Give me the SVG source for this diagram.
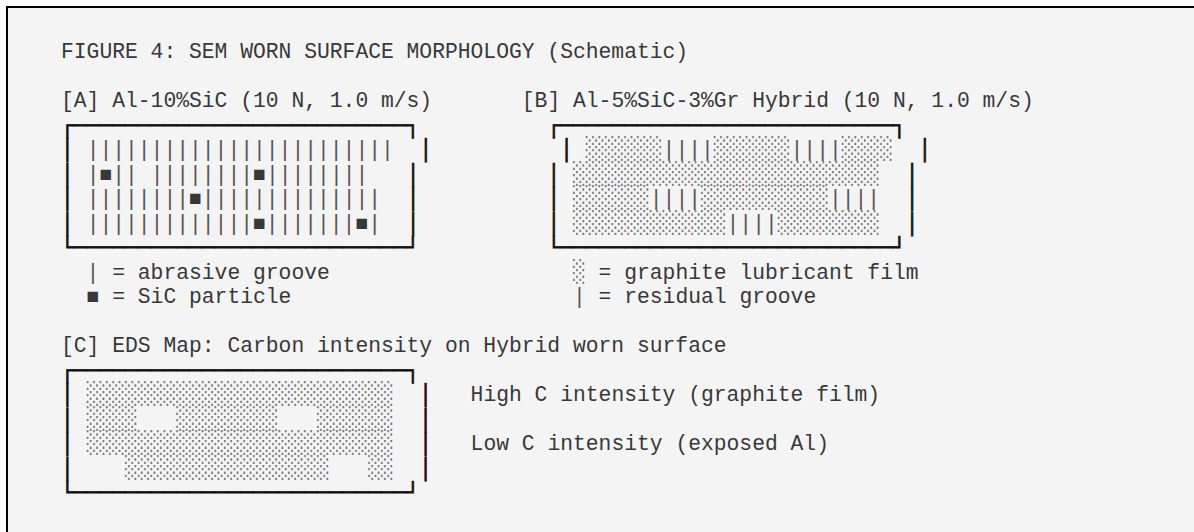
<svg xmlns="http://www.w3.org/2000/svg" width="1194" height="532" viewBox="0 0 1194 532">
  <style>
    .m { font-family: "Liberation Mono", "DejaVu Sans Mono", monospace; font-size: 21.333px; fill: #383838; white-space: pre; }
    .bx { fill: #111; stroke: #111; stroke-width: 0.8; }
    .sh { font-family: "DejaVu Sans Mono", "Liberation Mono", monospace; font-size: 21.26px; fill: #777; }
    .gv { fill: #555; }
    .frame { fill: #f4f4f4; stroke: #000; stroke-width: 2; }
  </style>
  <rect x="0" y="0" width="1194" height="532" fill="#ffffff"/>
  <rect class="frame" x="7" y="7" width="1200" height="540"/>

  <g id="title">
    <text class="m" x="61" y="58.4" xml:space="preserve">FIGURE 4: SEM WORN SURFACE MORPHOLOGY (Schematic)</text>
  </g>

  <g id="panel-a">
    <text class="m" x="61" y="107.4" xml:space="preserve">[A] Al-10%SiC (10 N, 1.0 m/s)</text>
    <text class="m bx" x="61" y="131.9" xml:space="preserve">┌──────────────────────────┐</text>
    <text class="m" x="61" y="156.4" xml:space="preserve"><tspan class="bx">│</tspan> <tspan class="gv">||||||||||||||||||||||||</tspan>  <tspan class="bx">│</tspan></text>
    <text class="m" x="61" y="180.9" xml:space="preserve"><tspan class="bx">│</tspan> <tspan class="gv">|</tspan>■<tspan class="gv">||</tspan> <tspan class="gv">||||||||</tspan>■<tspan class="gv">||||||||</tspan>   <tspan class="bx">│</tspan></text>
    <text class="m" x="61" y="205.4" xml:space="preserve"><tspan class="bx">│</tspan> <tspan class="gv">||||||||</tspan>■<tspan class="gv">||||||||||||||</tspan>  <tspan class="bx">│</tspan></text>
    <text class="m" x="61" y="229.9" xml:space="preserve"><tspan class="bx">│</tspan> <tspan class="gv">|||||||||||||</tspan>■<tspan class="gv">|||||||</tspan>■<tspan class="gv">|</tspan>  <tspan class="bx">│</tspan></text>
    <text class="m bx" x="61" y="254.4" xml:space="preserve">└──────────────────────────┘</text>
  </g>
  <g id="legend-a">
    <text class="m" x="86.6" y="278.9" xml:space="preserve"><tspan class="gv">|</tspan> = abrasive groove</text>
    <text class="m" x="86.6" y="303.4" xml:space="preserve">■ = SiC particle</text>
  </g>

  <g id="panel-b">
    <text class="m" x="521.8" y="107.4" xml:space="preserve">[B] Al-5%SiC-3%Gr Hybrid (10 N, 1.0 m/s)</text>
    <text class="m bx" x="547.4" y="131.9" xml:space="preserve">┌──────────────────────────┐</text>
    <text class="m" x="560.2" y="156.4" xml:space="preserve"><tspan class="bx">│</tspan> <tspan class="sh">░░░░░░</tspan><tspan class="gv">||||</tspan><tspan class="sh">░░░░░░</tspan><tspan class="gv">||||</tspan><tspan class="sh">░░░░</tspan>  <tspan class="bx">│</tspan></text>
    <text class="m" x="547.4" y="180.9" xml:space="preserve"><tspan class="bx">│</tspan> <tspan class="sh">░░░░░░░░░░░░░░░░░░░░░░░░</tspan>  <tspan class="bx">│</tspan></text>
    <text class="m" x="547.4" y="205.4" xml:space="preserve"><tspan class="bx">│</tspan> <tspan class="sh">░░░░░░</tspan><tspan class="gv">||||</tspan><tspan class="sh">░░░░░░░░░░</tspan><tspan class="gv">||||</tspan>  <tspan class="bx">│</tspan></text>
    <text class="m" x="547.4" y="229.9" xml:space="preserve"><tspan class="bx">│</tspan> <tspan class="sh">░░░░░░░░░░░░</tspan><tspan class="gv">||||</tspan><tspan class="sh">░░░░░░░░</tspan>  <tspan class="bx">│</tspan></text>
    <text class="m bx" x="547.4" y="254.4" xml:space="preserve">└──────────────────────────┘</text>
  </g>
  <g id="legend-b">
    <text class="m" x="573" y="278.9" xml:space="preserve"><tspan class="sh">░</tspan> = graphite lubricant film</text>
    <text class="m" x="573" y="303.4" xml:space="preserve"><tspan class="gv">|</tspan> = residual groove</text>
  </g>

  <g id="panel-c">
    <text class="m" x="61" y="352.4" xml:space="preserve">[C] EDS Map: Carbon intensity on Hybrid worn surface</text>
    <text class="m bx" x="61" y="376.9" xml:space="preserve">┌──────────────────────────┐</text>
    <text class="m" x="61" y="401.4" xml:space="preserve"><tspan class="bx">│</tspan> <tspan class="sh">░░░░░░░░░░░░░░░░░░░░░░░░</tspan>  <tspan class="bx">│</tspan></text>
    <text class="m" x="61" y="425.9" xml:space="preserve"><tspan class="bx">│</tspan> <tspan class="sh">░░░░</tspan>   <tspan class="sh">░░░░░░░░</tspan>   <tspan class="sh">░░░░░░</tspan>  <tspan class="bx">│</tspan></text>
    <text class="m" x="61" y="450.4" xml:space="preserve"><tspan class="bx">│</tspan> <tspan class="sh">░░░░░░░░░░░░░░░░░░░░░░░░</tspan>  <tspan class="bx">│</tspan></text>
    <text class="m" x="61" y="474.9" xml:space="preserve"><tspan class="bx">│</tspan>    <tspan class="sh">░░░░░░░░░░░░░░░░</tspan>   <tspan class="sh">░░</tspan>  <tspan class="bx">│</tspan></text>
    <text class="m bx" x="61" y="499.4" xml:space="preserve">└──────────────────────────┘</text>
  </g>
  <g id="legend-c">
    <text class="m" x="470.6" y="401.4" xml:space="preserve">High C intensity (graphite film)</text>
    <text class="m" x="470.6" y="450.4" xml:space="preserve">Low C intensity (exposed Al)</text>
  </g>
</svg>
